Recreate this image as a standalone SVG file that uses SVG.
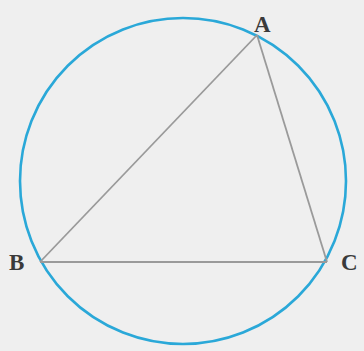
<svg xmlns="http://www.w3.org/2000/svg" width="364" height="351" viewBox="0 0 364 351">
<style>
.lbl{font-family:"Liberation Serif",serif;font-size:23px;font-weight:bold;fill:#3a3a3a;}
.tri{stroke:#9a9a9a;stroke-width:1.8;fill:none;}
.circ{stroke:#2aa8d8;stroke-width:2.6;fill:none;}
</style>
<rect width="364" height="351" fill="#efefef"/>
<g id="circle"><circle class="circ" cx="183" cy="181" r="163"/></g>
<g id="connectors">
<line class="tri" x1="257" y1="35" x2="40" y2="262"/>
<line class="tri" x1="257" y1="35" x2="327" y2="262"/>
<line class="tri" x1="40" y1="262" x2="327" y2="262"/>
</g>
<g id="A"><text class="lbl" x="254" y="32">A</text></g>
<g id="B"><text class="lbl" x="9" y="270">B</text></g>
<g id="C"><text class="lbl" x="341" y="270">C</text></g>
</svg>
